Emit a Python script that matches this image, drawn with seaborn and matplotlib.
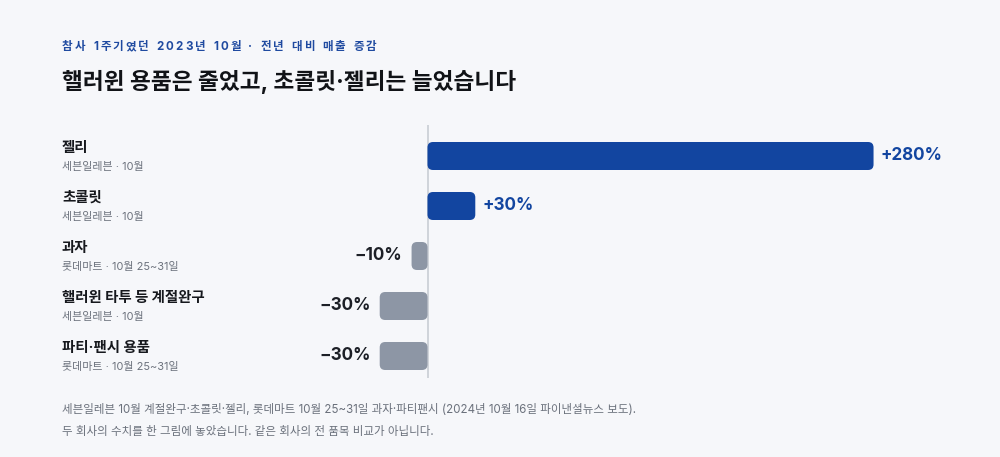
import matplotlib
matplotlib.use("Agg")
import matplotlib.pyplot as plt
from matplotlib.patches import FancyBboxPatch
import seaborn as sns
import pandas as pd

# data
categories = ["젤리", "초콜릿", "과자", "핼러윈 타투 등 계절완구", "파티·팬시 용품"]
sources = ["세븐일레븐 · 10월", "세븐일레븐 · 10월", "롯데마트 · 10월 25~31일",
           "세븐일레븐 · 10월", "롯데마트 · 10월 25~31일"]
changes = [280, 30, -10, -30, -30]
value_labels = ["+280%", "+30%", "−10%", "−30%", "−30%"]

kicker = "참사 1주기였던 2023년 10월 · 전년 대비 매출 증감"
title = "핼러윈 용품은 줄었고, 초콜릿·젤리는 늘었습니다"
note_lines = [
    "세븐일레븐 10월 계절완구·초콜릿·젤리, 롯데마트 10월 25~31일 과자·파티팬시 (2024년 10월 16일 파이낸셜뉴스 보도).",
    "두 회사의 수치를 한 그림에 놓았습니다. 같은 회사의 전 품목 비교가 아닙니다.",
]

BG = "#f6f7fa"
BLUE = "#1245a0"
GRAY = "#8d96a5"
FAM = ["Inter", "Noto Sans CJK KR", "DejaVu Sans"]

sns.set_theme(style="white")
plt.rcParams["font.family"] = FAM

df = pd.DataFrame({"category": categories, "change": changes})
df["sign"] = ["pos" if v > 0 else "neg" for v in changes]

W, H = 1000, 457
fig = plt.figure(figsize=(10, 4.57), dpi=100)
fig.patch.set_facecolor(BG)

# axes placed in pixel terms: zero line at x=427.5, 1.593 px per percent point
ax_l, ax_r, ax_t, ax_b = 300, 960, 125, 378
ax = fig.add_axes([ax_l / W, 1 - ax_b / H, (ax_r - ax_l) / W, (ax_b - ax_t) / H])
ax.set_facecolor(BG)
px_per_unit = 1.593
zero_px = 427.5
ax.set_xlim(-(zero_px - ax_l) / px_per_unit, (ax_r - zero_px) / px_per_unit)

sns.barplot(data=df, y="category", x="change", hue="sign",
            palette={"pos": BLUE, "neg": GRAY}, orient="h", width=0.56,
            legend=False, ax=ax, saturation=1)

# rows: centre of first at y=156, 50 px apart
row_px = 50
top_idx = -(156 - ax_t) / row_px
bot_idx = (ax_b - 156) / row_px
ax.set_ylim(bot_idx, top_idx)

# swap bars for rounded ones
x_unit_per_px = 1 / px_per_unit
y_unit_per_px = 1 / row_px
aspect = y_unit_per_px / x_unit_per_px
for p in list(ax.patches):
    x0, y0 = p.get_x(), p.get_y()
    w, h = p.get_width(), p.get_height()
    if w < 0:
        x0, w = x0 + w, -w
    fb = FancyBboxPatch((x0, y0), w, h,
                        boxstyle=f"round,pad=0,rounding_size={5.5 * x_unit_per_px}",
                        mutation_aspect=aspect, facecolor=p.get_facecolor(),
                        edgecolor="none", zorder=3)
    p.remove()
    ax.add_patch(fb)

ax.axvline(0, color="#c9cdd4", lw=1.2, zorder=2)

for i, (v, lab) in enumerate(zip(changes, value_labels)):
    if v > 0:
        ax.text(v + 7 * x_unit_per_px, i, lab, ha="left", va="center",
                fontsize=12.3, fontweight="bold", color=BLUE)
    else:
        ax.text(v - 9 * x_unit_per_px, i, lab, ha="right", va="center",
                fontsize=12.3, fontweight="bold", color="#1c1f26")

ax.set_xlabel("")
ax.set_ylabel("")
ax.set_xticks([])
ax.set_yticks([])
for s in ax.spines.values():
    s.set_visible(False)

# left labels
for i, (c, s) in enumerate(zip(categories, sources)):
    yc = 156 + row_px * i
    fig.text(62 / W, 1 - (yc - 8) / H, c, ha="left", va="center",
             fontsize=10.4, fontweight="bold", color="#16181d")
    fig.text(62 / W, 1 - (yc + 11) / H, s, ha="left", va="center",
             fontsize=7.9, color="#6b717c")

# kicker with letter spacing
renderer = fig.canvas.get_renderer()
x_px = 62
for ch in kicker:
    t = fig.text(x_px / W, 1 - 47 / H, ch, ha="left", va="center",
                 fontsize=8.3, fontweight="bold", color="#1f4aa0")
    bb = t.get_window_extent(renderer)
    wch = bb.width if ch != " " else 3.5
    x_px += wch + 2.1

fig.text(62 / W, 1 - 82 / H, title, ha="left", va="center",
         fontsize=16.3, fontweight="bold", color="#111317")

for k, line in enumerate(note_lines):
    fig.text(62 / W, 1 - (410 + 22 * k) / H, line, ha="left", va="center",
             fontsize=8.3, color="#6b717c")

fig.savefig("out.png", dpi=100, facecolor=BG)
